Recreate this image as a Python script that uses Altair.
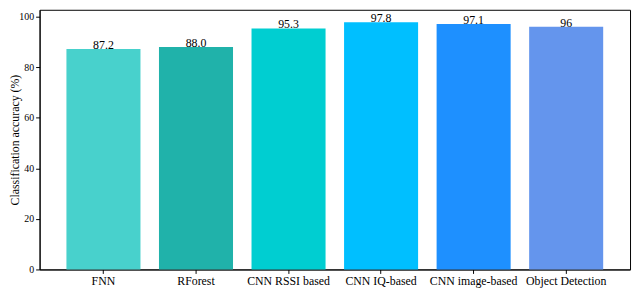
import altair as alt
import pandas as pd

models = ["FNN", "RForest", "CNN RSSI based", "CNN IQ-based", "CNN image-based", "Object Detection"]
accuracy = [87.2, 88.0, 95.3, 97.8, 97.1, 96.0]
value_labels = ["87.2", "88.0", "95.3", "97.8", "97.1", "96"]
colors = ["#48D1CC", "#20B2AA", "#00CED1", "#00BFFF", "#1E90FF", "#6495ED"]

df = pd.DataFrame({"model": models, "acc": accuracy, "label": value_labels})

FONT = "Liberation Serif"

x = alt.X("model:N", sort=models, title=None,
          scale=alt.Scale(paddingInner=0.2, paddingOuter=0.29),
          axis=alt.Axis(labelAngle=0, labelFontSize=12, labelFont=FONT, labelColor="black",
                        tickColor="black", domainColor="black", tickSize=4, labelPadding=2))
y = alt.Y("acc:Q", title="Classification accuracy (%)",
          scale=alt.Scale(domain=[0, 102.69], nice=False, zero=True),
          axis=alt.Axis(values=[0, 20, 40, 60, 80, 100], grid=False, labelFontSize=10, labelFont=FONT,
                        labelColor="black", tickColor="black", domainColor="black", tickSize=4,
                        labelPadding=2, titleFont=FONT, titleFontSize=12, titleFontWeight="normal",
                        titleColor="black", titleX=-18, titleBaseline="bottom", titleAngle=270))

bars = alt.Chart(df).mark_bar().encode(
    x=x, y=y,
    color=alt.Color("model:N", sort=models, scale=alt.Scale(domain=models, range=colors), legend=None),
)
text = alt.Chart(df).mark_text(font=FONT, fontSize=12, baseline="alphabetic", color="black").encode(
    x=alt.X("model:N", sort=models), y="acc:Q", text="label:N"
)

chart = (bars + text).properties(
    width=598, height=263,
    autosize=alt.AutoSizeParams(type="none"),
    padding={"left": 32, "top": 0, "right": 2, "bottom": 19},
).configure_view(stroke="black", strokeWidth=1)

chart.save("out.html", embed_options={"renderer": "svg", "actions": False})
